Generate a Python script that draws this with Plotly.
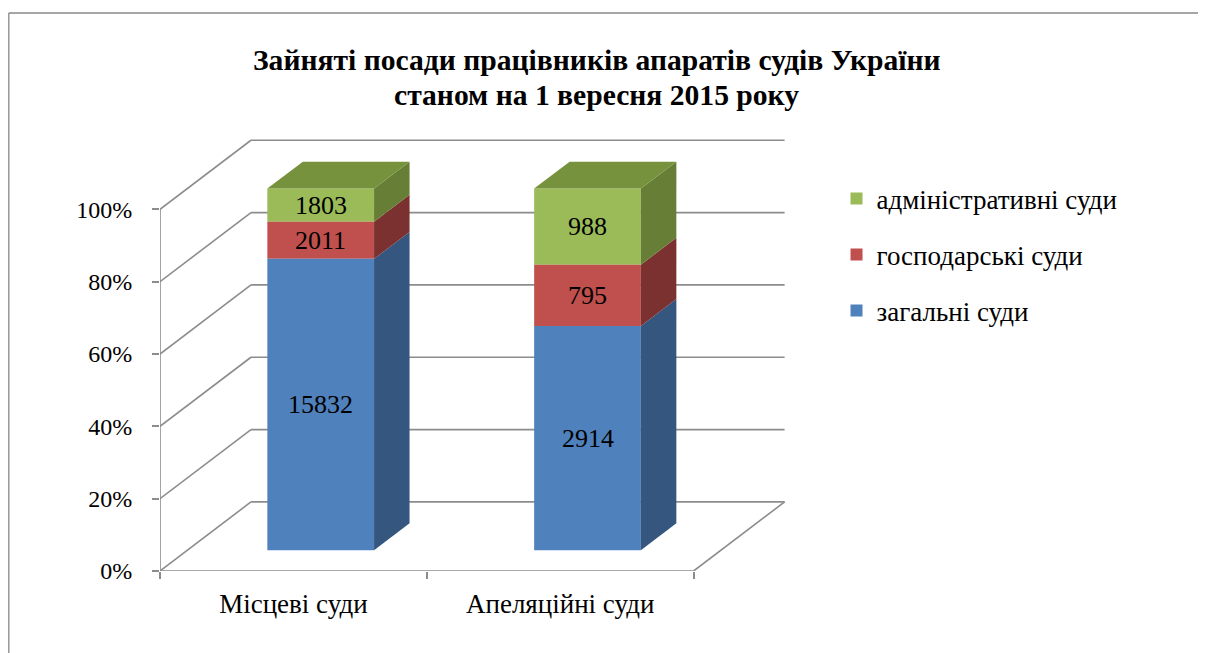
import plotly.graph_objects as go

# ---------------- data ----------------
categories = ["Місцеві суди", "Апеляційні суди"]
series_names = ["загальні суди", "господарські суди", "адміністративні суди"]
general_courts = [15832, 2914]
commercial_courts = [2011, 795]
administrative_courts = [1803, 988]
y_tick_values = [0, 20, 40, 60, 80, 100]
y_tick_labels = ["0%", "20%", "40%", "60%", "80%", "100%"]
title_lines = ["Зайняті посади працівників апаратів судів України",
               "станом на 1 вересня 2015 року"]

# ---------------- style ----------------
front_colors = ["#4F81BD", "#C0504D", "#9BBB59"]
side_colors = ["#34567F", "#7B312F", "#677E36"]
top_color = "#76923C"
grid_color = "#8C8C8C"
FONT = "Liberation Serif, Times New Roman, serif"

# 3D geometry (in axis units): depth vector of the chart box
DEPTH_X, DEPTH_Y = 0.341, 19.1
FRONT_FRAC, BAR_FRAC = 0.30, 0.39
BAR_W = 0.40

# page offset of the plot div (browser default body margin)
OFF = 8
W, H = 1206 - OFF, 653 - OFF
L_PX, B_PX = 160 - OFF, 571 - OFF
PX_PER_CAT, PX_PER_PCT = 267.0, 3.62
X_RANGE = [0, 2.35]
Y_RANGE = [0, 120]
plot_w = (X_RANGE[1] - X_RANGE[0]) * PX_PER_CAT
plot_h = (Y_RANGE[1] - Y_RANGE[0]) * PX_PER_PCT
m_l, m_b = L_PX, H - B_PX
m_r = W - m_l - plot_w
m_t = H - m_b - plot_h


def px_to_paper_x(px):
    """px given in reference (page) coordinates"""
    return (px - OFF - m_l) / plot_w


def px_to_paper_y(py):
    return (H - m_b - (py - OFF)) / plot_h


series = [general_courts, commercial_courts, administrative_courts]
totals = [sum(s[i] for s in series) for i in range(len(categories))]
pct = [[s[i] / totals[i] * 100 for i in range(len(categories))] for s in series]

fig = go.Figure()
shapes = []
annotations = []

# ---------------- walls / gridlines (behind everything) ----------------
line_style = dict(color=grid_color, width=1.6)
n_cat = len(categories)
for v in y_tick_values:
    shapes.append(dict(type="line", xref="x", yref="y", layer="below",
                       x0=0, y0=v, x1=DEPTH_X, y1=v + DEPTH_Y, line=line_style))
    shapes.append(dict(type="line", xref="x", yref="y", layer="below",
                       x0=DEPTH_X, y0=v + DEPTH_Y, x1=n_cat + DEPTH_X, y1=v + DEPTH_Y,
                       line=line_style))
shapes.append(dict(type="line", xref="x", yref="y", layer="below",
                   x0=n_cat, y0=0, x1=n_cat + DEPTH_X, y1=DEPTH_Y, line=line_style))
shapes.append(dict(type="line", xref="x", yref="y", layer="below",
                   x0=0, y0=0, x1=n_cat, y1=0, line=line_style))
shapes.append(dict(type="line", xref="x", yref="y", layer="below",
                   x0=0, y0=0, x1=0, y1=y_tick_values[-1], line=line_style))

# outer frame
frame = dict(color="#888888", width=1.3)
shapes.append(dict(type="line", xref="paper", yref="paper",
                   x0=px_to_paper_x(8.7), y0=px_to_paper_y(12.5),
                   x1=px_to_paper_x(1215), y1=px_to_paper_y(12.5), line=frame))
shapes.append(dict(type="line", xref="paper", yref="paper",
                   x0=px_to_paper_x(8.7), y0=px_to_paper_y(12.5),
                   x1=px_to_paper_x(8.7), y1=px_to_paper_y(670), line=frame))

# ---------------- front faces (bars) ----------------
x_front = [i + 0.5 + FRONT_FRAC * DEPTH_X for i in range(n_cat)]
bases = [0.0] * n_cat
seg_bounds = []
bar_traces = []
for k, name in enumerate(series_names):
    b = [bases[i] + FRONT_FRAC * DEPTH_Y for i in range(n_cat)]
    bar_traces.append(go.Bar(
        x=x_front, y=pct[k], base=b, width=BAR_W, name=name,
        marker=dict(color=front_colors[k], line=dict(width=0)),
        legendgroup=name, hoverinfo="skip",
    ))
    seg_bounds.append([(bases[i], bases[i] + pct[k][i]) for i in range(n_cat)])
    for i in range(n_cat):
        annotations.append(dict(
            x=x_front[i], y=bases[i] + pct[k][i] / 2 + FRONT_FRAC * DEPTH_Y,
            xref="x", yref="y", text=str(series[k][i]), showarrow=False,
            font=dict(family=FONT, size=26, color="black")))
    bases = [bases[i] + pct[k][i] for i in range(n_cat)]
# legend lists the top series first
for tr in reversed(bar_traces):
    fig.add_trace(tr)

# ---------------- side and top faces ----------------
dxb, dyb = BAR_FRAC * DEPTH_X, BAR_FRAC * DEPTH_Y
off_y = FRONT_FRAC * DEPTH_Y
for k in range(len(series_names)):
    for i in range(n_cat):
        y0, y1 = seg_bounds[k][i]
        xr = x_front[i] + BAR_W / 2
        fig.add_trace(go.Scatter(
            x=[xr, xr, xr + dxb, xr + dxb, xr],
            y=[y0 + off_y, y1 + off_y, y1 + off_y + dyb, y0 + off_y + dyb, y0 + off_y],
            mode="lines", fill="toself", fillcolor=side_colors[k],
            line=dict(width=0, color=side_colors[k]),
            showlegend=False, hoverinfo="skip"))
for i in range(n_cat):
    xl, xr = x_front[i] - BAR_W / 2, x_front[i] + BAR_W / 2
    yt = bases[i] + off_y
    fig.add_trace(go.Scatter(
        x=[xl, xr, xr + dxb, xl + dxb, xl],
        y=[yt, yt, yt + dyb, yt + dyb, yt],
        mode="lines", fill="toself", fillcolor=top_color,
        line=dict(width=0, color=top_color),
        showlegend=False, hoverinfo="skip"))

# ---------------- title (two centred lines) ----------------
for line, cy in zip(title_lines, [60, 95]):
    annotations.append(dict(
        x=px_to_paper_x(597), y=px_to_paper_y(cy), xref="paper", yref="paper",
        xanchor="center", yanchor="middle", showarrow=False,
        text="<b>" + line + "</b>",
        font=dict(family=FONT, size=29.6, color="black")))

fig.update_layout(
    width=W, height=H,
    margin=dict(l=m_l, r=m_r, t=m_t, b=m_b, pad=0),
    paper_bgcolor="white", plot_bgcolor="rgba(0,0,0,0)",
    barmode="overlay",
    xaxis=dict(range=X_RANGE, showgrid=False, zeroline=False, showline=False,
               tickmode="array", tickvals=[i + 0.5 for i in range(n_cat)],
               ticktext=categories, ticks="",
               minor=dict(tickmode="array", tickvals=list(range(n_cat + 1)),
                          ticks="outside", ticklen=7, tickcolor=grid_color,
                          tickwidth=1.6, showgrid=False),
               ticklabelstandoff=14,
               tickfont=dict(family=FONT, size=27, color="black"),
               fixedrange=True),
    yaxis=dict(range=Y_RANGE, showgrid=False, zeroline=False, showline=False,
               tickmode="array", tickvals=y_tick_values, ticktext=y_tick_labels,
               ticks="outside", ticklen=7, tickcolor=grid_color, tickwidth=1.6,
               ticklabelstandoff=15,
               tickfont=dict(family=FONT, size=24, color="black"),
               fixedrange=True),
    legend=dict(x=px_to_paper_x(837), xanchor="left",
                y=px_to_paper_y(174), yanchor="top",
                traceorder="grouped", tracegroupgap=18,
                font=dict(family=FONT, size=27, color="black"),
                bgcolor="rgba(0,0,0,0)", itemwidth=30),
    shapes=shapes,
    annotations=annotations,
    showlegend=True,
)

fig.write_html("out.html")
